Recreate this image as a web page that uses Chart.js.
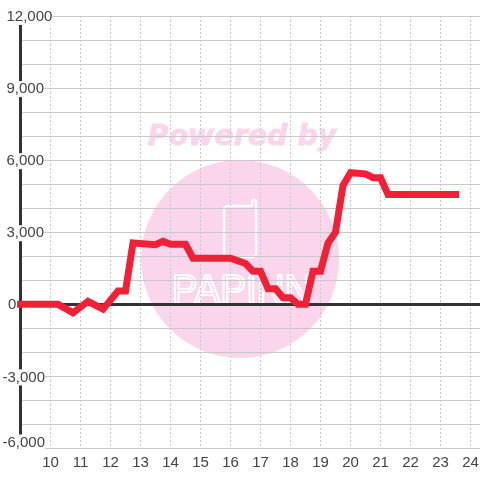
<!DOCTYPE html>
<html>
<head>
<meta charset="utf-8">
<style>
  html, body { margin: 0; padding: 0; background: #fff; }
  #wrap { width: 480px; height: 480px; }
</style>
<script src="https://cdn.jsdelivr.net/npm/chart.js@4/dist/chart.umd.min.js"></script>
</head>
<body>
<div id="wrap"><canvas id="chart"></canvas></div>
<script>
const hours = [9, 10.25, 10.75, 11.25, 11.75, 12.25, 12.5, 12.75, 13.5, 13.75, 14, 14.5, 14.75, 16, 16.5, 16.75, 17, 17.25, 17.5, 17.75, 18, 18.25, 18.5, 18.75, 19, 19.25, 19.5, 19.75, 20, 20.5, 20.75, 21, 21.25, 23.5];
const values = [0, 0, -350, 125, -200, 550, 550, 2550, 2480, 2620, 2500, 2500, 1920, 1920, 1700, 1380, 1380, 650, 650, 270, 270, 0, 0, 1380, 1380, 2550, 3000, 4950, 5480, 5430, 5270, 5270, 4570, 4570];
const yLabels = ['12,000', '9,000', '6,000', '3,000', '0', '-3,000', '-6,000'];
const xLabels = [10, 11, 12, 13, 14, 15, 16, 17, 18, 19, 20, 21, 22, 23, 24];

// watermark sits under the grid
const watermark = {
    id: 'watermark',
    beforeDraw(chart) {
        const c = chart.ctx;
        c.save();
        c.fillStyle = '#fbd5ec';
        c.beginPath();
        c.arc(240, 259, 99, 0, Math.PI * 2);
        c.fill();
        c.font = 'italic bold 28.5px "DejaVu Sans"';
        c.textAlign = 'center';
        c.textBaseline = 'alphabetic';
        c.strokeStyle = '#fbd5ec';
        c.lineWidth = 0.8;
        c.fillText('Powered by', 242, 145);
        c.strokeText('Powered by', 242, 145);
        // phone outline
        c.strokeStyle = '#fff';
        c.lineWidth = 2.4;
        c.beginPath();
        c.moveTo(252, 206);
        c.lineTo(252, 202);
        c.arc(254, 202, 2, Math.PI, 0);
        c.lineTo(256, 253);
        c.arcTo(256, 257, 252, 257, 4);
        c.lineTo(228, 257);
        c.arcTo(224, 257, 224, 253, 4);
        c.lineTo(224, 210);
        c.arcTo(224, 206, 228, 206, 4);
        c.closePath();
        c.stroke();
        c.translate(242, 303);
        c.scale(0.94, 1);
        c.font = '41px "Liberation Sans"';
        c.lineWidth = 2.2;
        c.strokeText('PAPINN', 0, 0);
        c.restore();
    }
};

// thick axis line and tick labels with a white backing, all under the series line
const axisOverlay = {
    id: 'axisOverlay',
    beforeDatasetsDraw(chart) {
        const c = chart.ctx;
        const x = chart.scales.x;
        const y = chart.scales.y;
        const left = x.getPixelForValue(9);
        c.save();
        c.fillStyle = '#333';
        c.fillRect(left - 1.5, y.getPixelForValue(12000), 3, y.getPixelForValue(-6000) - y.getPixelForValue(12000));
        c.font = '15px "Liberation Sans"';
        c.textAlign = 'left';
        c.textBaseline = 'middle';
        yLabels.forEach(function (label) {
            const v = parseInt(label.replace(',', ''));
            const py = y.getPixelForValue(v);
            // bottom label is pushed up so it stays inside the plot
            const ty = (v === -6000 ? py - 7 : py) + 1;
            const tx = v < 0 ? 2.5 : (v === 0 ? 8 : 6.5);
            const w = c.measureText(label).width;
            c.fillStyle = '#fff';
            c.fillRect(tx - 1, ty - 8, w + 1, 16);
            c.fillStyle = '#444';
            c.fillText(label, tx, ty);
        });
        c.restore();
    }
};

new Chart(document.getElementById('chart'), {
    type: 'line',
    data: {
        datasets: [{
            data: hours.map(function (h, i) { return { x: h, y: values[i] }; }),
            borderColor: '#f02037',
            borderWidth: 7,
            borderCapStyle: 'square',
            borderJoinStyle: 'miter',
            pointRadius: 0,
            tension: 0,
            clip: false
        }]
    },
    options: {
        responsive: true,
        maintainAspectRatio: false,
        animation: false,
        layout: { padding: { top: 16, right: 0, bottom: 0, left: 20.5 } },
        plugins: { legend: { display: false }, tooltip: { enabled: false } },
        scales: {
            x: {
                type: 'linear',
                min: 9,
                max: 24.3167,
                afterFit(scale) { scale.height = 31.5; scale.paddingLeft = 0; scale.paddingRight = 0; },
                afterBuildTicks(scale) { scale.ticks = xLabels.map(function (v) { return { value: v }; }); },
                grid: { color: '#c8c8c8', lineWidth: 1, drawTicks: false },
                border: { display: false, dash: [2, 2] },
                ticks: { color: '#444', font: { family: '"Liberation Sans"', size: 15 }, maxRotation: 0, padding: 5, autoSkip: false }
            },
            y: {
                min: -6000,
                max: 12000,
                afterFit(scale) { scale.width = 0; scale.paddingTop = 0; scale.paddingBottom = 0; },
                afterBuildTicks(scale) {
                    const t = [];
                    for (let v = -6000; v <= 12000; v += 1000) t.push({ value: v });
                    scale.ticks = t;
                },
                grid: {
                    color: function (ctx) { return ctx.tick.value === 0 ? '#333' : '#c8c8c8'; },
                    lineWidth: function (ctx) { return ctx.tick.value === 0 ? 3 : 1; },
                    drawTicks: false
                },
                border: { display: false },
                ticks: { display: false }
            }
        }
    },
    plugins: [watermark, axisOverlay]
});
</script>
</body>
</html>
